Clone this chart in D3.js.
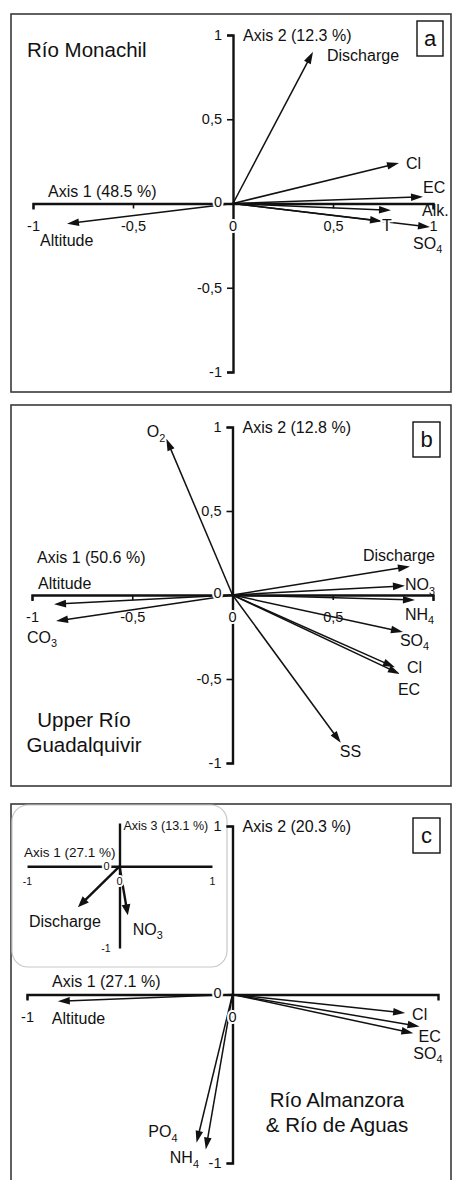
<!DOCTYPE html>
<html>
<head>
<meta charset="utf-8">
<script src="https://cdn.jsdelivr.net/npm/d3@7"></script>
<style>
  body { margin: 0; background: #fff; }
  svg { display: block; font-family: "Liberation Sans", Arial, sans-serif; }
</style>
</head>
<body>
<script>
// ---- PCA loadings (component 1 / component 2) ----
// (a) Río Monachil
const monachilVars  = ["Discharge", "Cl", "EC", "Alk.", "T", "SO4", "Altitude"];
const monachilAxis1 = [0.40, 0.83, 0.95, 0.79, 0.745, 0.985, -0.83];
const monachilAxis2 = [0.90, 0.24, 0.04, -0.04, -0.105, -0.14, -0.12];

// (b) Upper Río Guadalquivir
const guadVars  = ["O2", "Discharge", "NO3", "NH4", "SO4", "Cl", "EC", "SS", "Altitude", "CO3"];
const guadAxis1 = [-0.33, 0.885, 0.86, 0.91, 0.85, 0.81, 0.835, 0.54, -0.89, -0.88];
const guadAxis2 = [0.93, 0.17, 0.055, -0.03, -0.22, -0.43, -0.47, -0.88, -0.055, -0.155];

// (c) Río Almanzora & Río de Aguas
const almVars  = ["Altitude", "Cl", "EC", "SO4", "PO4", "NH4"];
const almAxis1 = [-0.85, 0.84, 0.91, 0.88, -0.175, -0.13];
const almAxis2 = [-0.04, -0.11, -0.19, -0.23, -0.88, -0.92];

// (c) inset: component 1 / component 3
const insetVars  = ["Discharge", "NO3"];
const insetAxis1 = [-0.45, 0.09];
const insetAxis3 = [-0.50, -0.60];

// axis titles and panel names
const axisTitlesA = ["Axis 1 (48.5 %)", "Axis 2 (12.3 %)"];
const axisTitlesB = ["Axis 1 (50.6 %)", "Axis 2 (12.8 %)"];
const axisTitlesC = ["Axis 1 (27.1 %)", "Axis 2 (20.3 %)"];
const axisTitlesInset = ["Axis 1 (27.1 %)", "Axis  3 (13.1 %)"];
const panelLetters = ["a", "b", "c"];
const titleA = ["Río Monachil"];
const titleB = ["Upper Río", "Guadalquivir"];
const titleC = ["Río Almanzora", "& Río de Aguas"];

// tick values
const fullTicks = [-1, -0.5, 0.5, 1];
const endTicks  = [-1, 1];

// ---------------------------------------------------------------
const INK = "#111";
const fmt = d => String(d).replace(".", ",");
const svg = d3.select("body").append("svg").attr("width", 453).attr("height", 1180);

function chemText(sel, name, size) {
  const m = name.match(/^([A-Za-z]+)(\d)$/);
  if (m) {
    sel.append("tspan").text(m[1]);
    sel.append("tspan").attr("font-size", size * 0.68).attr("dy", size * 0.28).text(m[2]);
  } else {
    sel.text(name);
  }
}

function label(g, x, y, name, size, anchor, halo) {
  const t = g.append("text")
    .attr("x", x).attr("y", y + size * 0.35)
    .attr("font-size", size).attr("text-anchor", anchor).attr("fill", INK);
  if (halo) t.attr("stroke", "#fff").attr("stroke-width", 4).attr("paint-order", "stroke");
  chemText(t, name, size);
  return t;
}

function arrow(g, x0, y0, x1, y1, sw, L, Wd) {
  const dx = x1 - x0, dy = y1 - y0, len = Math.hypot(dx, dy);
  const ux = dx / len, uy = dy / len;
  const bx = x1 - ux * L, by = y1 - uy * L;
  g.append("line")
    .attr("x1", x0).attr("y1", y0)
    .attr("x2", x1 - ux * L * 0.6).attr("y2", y1 - uy * L * 0.6)
    .attr("stroke", INK).attr("stroke-width", sw);
  g.append("path")
    .attr("d", `M${x1},${y1}L${bx - uy * Wd},${by + ux * Wd}L${bx + uy * Wd},${by - ux * Wd}Z`)
    .attr("fill", INK);
}

function styleAxis(g, fs, domW) {
  g.attr("font-family", null).attr("font-size", null);
  g.select(".domain").attr("stroke", INK).attr("stroke-width", domW);
  g.selectAll(".tick line").attr("stroke", INK).attr("stroke-width", 1.6);
  g.selectAll(".tick text").attr("fill", INK).attr("font-size", fs);
}

function frame(y0, y1) {
  svg.append("rect").attr("x", 11).attr("y", y0).attr("width", 440).attr("height", y1 - y0)
    .attr("fill", "none").attr("stroke", "#3a3a3a").attr("stroke-width", 1.6);
}

function letterBox(x, y, w, h, ch) {
  svg.append("rect").attr("x", x).attr("y", y).attr("width", w).attr("height", h)
    .attr("fill", "#fff").attr("stroke", INK).attr("stroke-width", 1.4);
  svg.append("text").attr("x", x + w / 2).attr("y", y + h / 2 + 7.5)
    .attr("text-anchor", "middle").attr("font-size", 22).attr("fill", INK).text(ch);
}

function titleLines(lines, x, y0, step, anchor) {
  lines.forEach((s, i) => svg.append("text").attr("x", x).attr("y", y0 + i * step + 7)
    .attr("text-anchor", anchor).attr("font-size", 20.5).attr("fill", INK).text(s));
}

// Draws one biplot: axes, tick labels, zero labels and loading arrows
function biplot(cfg) {
  const x = d3.scaleLinear([-1, 1], cfg.xr);
  const y = d3.scaleLinear([-1, 1], cfg.yr);
  const g = svg.append("g");
  const ox = x(0), oy = y(0);

  const ax = g.append("g").attr("transform", `translate(0,${oy})`)
    .call(d3.axisBottom(x).tickValues(cfg.xTicks).tickSizeInner(5).tickSizeOuter(6)
      .tickPadding(12).tickFormat(d => cfg.xHide.includes(d) ? "" : fmt(d)));
  styleAxis(ax, 14.5, 2.4);
  const ay = g.append("g").attr("transform", `translate(${ox},0)`)
    .call(d3.axisLeft(y).tickValues(cfg.yTicks).tickSizeInner(6).tickSizeOuter(6)
      .tickPadding(5).tickFormat(fmt));
  styleAxis(ay, 14.5, 2.4);

  // axis titles
  g.append("text").attr("x", cfg.t1[0]).attr("y", cfg.t1[1] + 5.5).attr("font-size", 16)
    .attr("fill", INK).text(cfg.titles[0]);
  g.append("text").attr("x", ox + 10).attr("y", y(1) + 5.5).attr("font-size", 16)
    .attr("fill", INK).text(cfg.titles[1]);

  // loading arrows
  cfg.vars.forEach((v, i) => {
    arrow(g, ox, oy, x(cfg.a1[i]), y(cfg.a2[i]), 1.5, 12, 3.8);
  });

  // zero labels sit on the axes with a white halo
  label(g, ox - 15, oy - 2, "0", 14.5, "middle", true);
  label(g, ox, oy + 22, "0", 14.5, "middle", true);

  // variable labels
  cfg.vars.forEach((v, i) => {
    const p = cfg.pos[v];
    label(g, x(cfg.a1[i]) + p[0], y(cfg.a2[i]) + p[1], v, 16, p[2] || "start", p[3]);
  });
}

// ---------------- panel a ----------------
frame(14, 392);
biplot({
  xr: [33, 433], yr: [372, 35],
  xTicks: fullTicks, yTicks: fullTicks, xHide: [],
  titles: axisTitlesA, t1: [48, 191],
  vars: monachilVars, a1: monachilAxis1, a2: monachilAxis2,
  pos: {
    "Discharge": [14, 4], "Cl": [7, 0], "EC": [0, -9], "Alk.": [31, 0],
    "T": [5, 4, "middle", true], "SO4": [-17, 16], "Altitude": [-27, 17]
  }
});
titleLines(titleA, 27, 50, 0, "start");
letterBox(417, 21, 26, 35, panelLetters[0]);

// ---------------- panel b ----------------
frame(405, 786);
biplot({
  xr: [32, 433], yr: [763, 427],
  xTicks: fullTicks, yTicks: fullTicks, xHide: [1],
  titles: axisTitlesB, t1: [37, 557],
  vars: guadVars, a1: guadAxis1, a2: guadAxis2,
  pos: {
    "O2": [-1, -7, "end"], "Discharge": [25, -11, "end"], "NO3": [0, -1],
    "NH4": [-10, 14], "SO4": [-3, 8], "Cl": [12, 0], "EC": [-2, 15],
    "SS": [-1, 9], "Altitude": [-16, -21], "CO3": [-29, 16]
  }
});
titleLines(titleB, 84, 720, 25, "middle");
letterBox(413, 422, 27, 35, panelLetters[1]);

// ---------------- panel c ----------------
frame(804, 1200);

// inset: component 1 vs component 3
{
  const gi = svg.append("g");
  gi.append("rect").attr("x", 12).attr("y", 805).attr("width", 215).attr("height", 162)
    .attr("rx", 16).attr("fill", "#fff").attr("stroke", "#c8c8c8").attr("stroke-width", 1.2);
  const x = d3.scaleLinear([-1, 1], [27, 212]);
  const y = d3.scaleLinear([-1, 0.53], [948, 823]);
  const ox = x(0), oy = y(0);
  const ax = gi.append("g").attr("transform", `translate(0,${oy})`)
    .call(d3.axisBottom(x).tickValues(endTicks).tickSize(0).tickPadding(11).tickFormat(fmt));
  styleAxis(ax, 10.5, 2.4);
  const ay = gi.append("g").attr("transform", `translate(${ox},0)`)
    .call(d3.axisLeft(y).tickValues([-1]).tickSize(0).tickPadding(9).tickFormat(fmt));
  styleAxis(ay, 10.5, 2.4);
  gi.append("text").attr("x", 24).attr("y", 852 + 4.5).attr("font-size", 13.5).attr("fill", INK)
    .text(axisTitlesInset[0]);
  gi.append("text").attr("x", ox + 4).attr("y", 825 + 4.5).attr("font-size", 12.5).attr("fill", INK)
    .text(axisTitlesInset[1]);
  insetVars.forEach((v, i) => arrow(gi, ox, oy, x(insetAxis1[i]), y(insetAxis3[i]), 2.4, 11, 4.4));
  label(gi, ox - 13, oy, "0", 11, "middle", true);
  label(gi, ox, oy + 15, "0", 11, "middle", true);
  const ipos = { "Discharge": [-49, 14], "NO3": [5, 14] };
  insetVars.forEach((v, i) => label(gi, x(insetAxis1[i]) + ipos[v][0], y(insetAxis3[i]) + ipos[v][1], v, 16, "start"));
}

biplot({
  xr: [27, 438], yr: [1163, 826],
  xTicks: [-1], yTicks: endTicks, xHide: [],
  titles: axisTitlesC, t1: [52, 981],
  vars: almVars, a1: almAxis1, a2: almAxis2,
  pos: {
    "Altitude": [-6, 17], "Cl": [7, 1], "EC": [-1, 10], "SO4": [0, 20],
    "PO4": [-19, -11, "end"], "NH4": [-36, 8]
  }
});
titleLines(titleC, 337, 1100, 25, "middle");
letterBox(413, 818, 27, 35, panelLetters[2]);
</script>
</body>
</html>
